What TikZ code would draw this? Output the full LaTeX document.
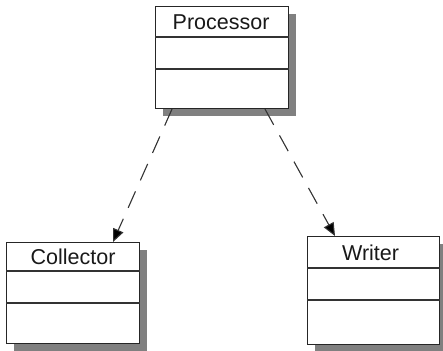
\documentclass[tikz,border=0pt]{standalone}
\usepackage{fontspec}
\setmainfont{Liberation Sans}
\usetikzlibrary{shadows,arrows.meta,calc}
\begin{document}
\begin{tikzpicture}[x=1pt,y=-1pt,
 cls/.style={draw=black!85, line width=1.1pt, fill=white, inner sep=0pt, anchor=north west,
   drop shadow={shadow xshift=7pt, shadow yshift=-7pt, fill=black!50, opacity=1}},
 title/.style={font=\fontsize{21.5}{25}\selectfont, inner sep=0pt, text=black!90},
 divider/.style={draw=black!80, line width=1.1pt},
 dep/.style={draw=black!80, line width=1.1pt, dash pattern=on 18pt off 12pt,
   -{Triangle[length=13pt,width=11pt,fill=black]}}]
\useasboundingbox (0,0) rectangle (443,350);

% Processor
\node[cls, minimum width=133pt, minimum height=102pt] (proc) at (155,6) {};
\draw[divider] ($(proc.north west)+(0,31)$) -- ($(proc.north east)+(0,31)$);
\draw[divider] ($(proc.north west)+(0,63)$) -- ($(proc.north east)+(0,63)$);
\node[title] (proct) at ($(proc.north)+(-1,16)$) {Processor};

% Collector
\node[cls, minimum width=133pt, minimum height=101pt] (coll) at (6,242) {};
\draw[divider] ($(coll.north west)+(0,29)$) -- ($(coll.north east)+(0,29)$);
\draw[divider] ($(coll.north west)+(0,61)$) -- ($(coll.north east)+(0,61)$);
\node[title] (collt) at ($(coll.north)+(0,15)$) {Collector};

% Writer
\node[cls, minimum width=132pt, minimum height=108pt] (wri) at (307,236) {};
\draw[divider] ($(wri.north west)+(0,32)$) -- ($(wri.north east)+(0,32)$);
\draw[divider] ($(wri.north west)+(0,64)$) -- ($(wri.north east)+(0,64)$);
\node[title] (writ) at ($(wri.north)+(-3,17)$) {Writer};

% Dependencies
\coordinate (pa) at ($(proc.south west)+(17,0)$);
\coordinate (pb) at ($(proc.south west)+(110,0)$);
\coordinate (ca) at ($(coll.north west)+(107,0)$);
\coordinate (wa) at ($(wri.north west)+(28,0)$);
\draw[dep] (pa) -- (ca);
\draw[dep] (pb) -- (wa);
\end{tikzpicture}
\end{document}
